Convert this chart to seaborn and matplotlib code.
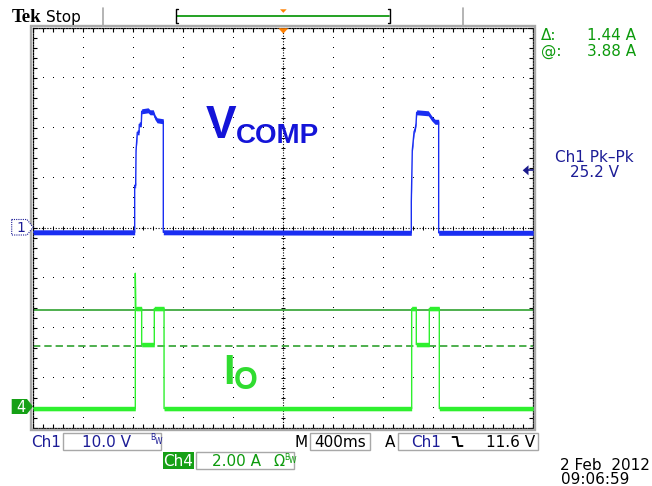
import numpy as np
import pandas as pd
import matplotlib
matplotlib.use("Agg")
import matplotlib.pyplot as plt
import seaborn as sns
from matplotlib.patches import Rectangle, Polygon
from matplotlib.lines import Line2D
from matplotlib.ticker import MultipleLocator, NullFormatter

# ---------------- data ----------------
ch1_time = [-2.0, -1.189, -1.189, -1.181, -1.178, -1.168, -1.154, -1.152, -1.136, -1.133,
            -1.082, -1.066, -1.040, -1.026, -1.010, -0.960, -0.960,
            1.024, 1.024, 1.032, 1.046, 1.056, 1.062, 1.067, 1.160, 1.187, 1.214, 1.243, 1.243, 2.0]
ch1_volts = [-0.8, -0.8, 8.6, 8.6, 15.6, 19.2, 19.2, 20.8, 20.8, 23.4,
             23.6, 23.2, 23.2, 22.2, 21.6, 21.4, -0.8,
             -0.9, 5.3, 15.6, 19.3, 20.0, 21.0, 23.2, 23.0, 22.0, 21.3, 21.3, -0.9, -0.9]
ch4_time = [-2.0, -1.184, -1.184, -1.180, -1.133, -1.133, -1.032, -1.032, -0.954, -0.954,
            1.027, 1.027, 1.064, 1.064, 1.168, 1.168, 1.248, 1.248, 2.0]
ch4_amps = [-0.07, -0.07, 5.34, 3.93, 3.93, 2.49, 2.49, 3.93, 3.93, -0.07,
            -0.07, 3.93, 3.93, 2.49, 2.49, 3.93, 3.93, -0.07, -0.07]

ch1_scale = 10.0      # V/div
ch4_scale = 2.00      # A/div
ch1_offset = 0.0      # div
ch4_offset = -3.57    # div
time_per_div = 0.4    # s/div
cursor_at = 3.88      # A
cursor_delta = 1.44   # A
trigger_level = 11.6  # V

status_ch1 = "10.0 V"
status_ch4 = "2.00 A"
status_time = "400ms"
status_trig = "11.6 V"
meas_label = "Ch1 Pk\u2013Pk"
meas_value = "25.2 V"
date_text = "2 Feb  2012"
time_text = "09:06:59"

# ---------------- figure ----------------
sns.set_theme(style="white")
plt.rcParams["font.family"] = ["DejaVu Sans"]

W, H = 652, 486
fig = plt.figure(figsize=(W / 100, H / 100), dpi=100)
fig.patch.set_facecolor("white")
ax = fig.add_axes([33.3 / W, 1 - 428.3 / H, 500 / W, 400 / H])
ax.set_facecolor("white")

BLUE = "#1a2ef2"
GREEN = "#2ef02e"
DKBLUE = "#1c1c96"
DKGREEN = "#0c9a0c"
CURSOR = "#1e9a1e"
ORANGE = "#ff8000"
GRAY = "#a8a8a8"

def fx(x):
    return x / W

def fy(y):
    return 1 - y / H

def ftext(x, y, s, **kw):
    fig.text(fx(x), fy(y), s, **kw)

def frect(x0, y0, x1, y1, **kw):
    fig.patches.append(Rectangle((fx(x0), fy(y1)), (x1 - x0) / W, (y1 - y0) / H,
                                 transform=fig.transFigure, **kw))

def fpoly(pts, **kw):
    fig.patches.append(Polygon([(fx(a), fy(b)) for a, b in pts], closed=True,
                               transform=fig.transFigure, **kw))

def fline(xs, ys, **kw):
    fig.lines.append(Line2D([fx(a) for a in xs], [fy(b) for b in ys],
                            transform=fig.transFigure, **kw))

xmin, xmax = -5 * time_per_div, 5 * time_per_div
ax.set_xlim(xmin, xmax)
ax.set_ylim(-4, 4)

# graticule dots
gx = np.arange(-4, 5) * time_per_div
gy = np.arange(-3, 4)
dot_y = np.arange(-4, 4.001, 0.2)
dot_x = np.arange(xmin, xmax + 1e-9, time_per_div * 0.2)
for xv in gx:
    if abs(xv) < 1e-9:
        continue
    ax.plot(np.full_like(dot_y, xv), dot_y, ls="none", marker=",", color="black", zorder=1)
for yv in gy:
    if yv == 0:
        continue
    ax.plot(dot_x, np.full_like(dot_x, yv), ls="none", marker=",", color="black", zorder=1)
# center axes
ax.axhline(0, color="black", lw=0.8, ls=(0, (1, 1.5)), zorder=1)
ax.axvline(0, color="black", lw=0.8, ls=(0, (1, 1.5)), zorder=1)
ax.plot(dot_x, np.zeros_like(dot_x), ls="none", marker="|", ms=3.5, mew=0.7, color="black", zorder=1)
ax.plot(np.zeros_like(dot_y), dot_y, ls="none", marker="_", ms=3.5, mew=0.7, color="black", zorder=1)

# edges
for sp in ax.spines.values():
    sp.set_visible(True)
    sp.set_color("black")
    sp.set_linewidth(0.9)
    sp.set_linestyle((0, (1, 1.2)))
ax.xaxis.set_major_locator(MultipleLocator(time_per_div))
ax.xaxis.set_minor_locator(MultipleLocator(time_per_div * 0.2))
ax.yaxis.set_major_locator(MultipleLocator(1))
ax.yaxis.set_minor_locator(MultipleLocator(0.2))
ax.tick_params(which="both", direction="in", top=True, right=True, bottom=True, left=True,
               length=2.6, width=0.8, color="black", labelbottom=False, labelleft=False)
ax.xaxis.set_major_formatter(NullFormatter())
ax.yaxis.set_major_formatter(NullFormatter())
ax.grid(False)

# cursors (Ch4)
y_at = cursor_at / ch4_scale + ch4_offset
y_base = (cursor_at - cursor_delta) / ch4_scale + ch4_offset
ax.axhline(y_at, color=CURSOR, lw=1.1, zorder=2)
ax.axhline(y_base, color=CURSOR, lw=1.1, ls=(0, (4.8, 2.6)), zorder=2)

# traces
df1 = pd.DataFrame({"t": ch1_time, "div": np.array(ch1_volts) / ch1_scale + ch1_offset})
df4 = pd.DataFrame({"t": ch4_time, "div": np.array(ch4_amps) / ch4_scale + ch4_offset})
ax.fill_between(df4["t"], df4["div"] - 0.045, df4["div"] + 0.045, color=GREEN, lw=0, zorder=3)
sns.lineplot(data=df4, x="t", y="div", estimator=None, sort=False, color=GREEN, lw=1.0, ax=ax, zorder=3)
ax.fill_between(df1["t"], df1["div"] - 0.05, df1["div"] + 0.05, color=BLUE, lw=0, zorder=4)
sns.lineplot(data=df1, x="t", y="div", estimator=None, sort=False, color=BLUE, lw=1.0, ax=ax, zorder=4)
ax.set_xlabel("")
ax.set_ylabel("")
ax.set_xlim(xmin, xmax)
ax.set_ylim(-4, 4)

# trigger level arrow
ytr = 228.3 - (trigger_level / ch1_scale + ch1_offset) * 50
fpoly([(522.7, ytr), (528.5, ytr - 5), (528.5, ytr + 5)], facecolor="#1a1a8c", edgecolor="none", zorder=5)
fline([528, 533], [ytr, ytr], color="#1a1a8c", lw=1.2, zorder=5)

# gray frame
frect(31.2, 26.2, 534.8, 429.8, fill=False, edgecolor=GRAY, lw=1.7, zorder=0.5)

# top bar
ftext(11.5, 21.7, "Tek", fontfamily="Liberation Serif", fontweight="bold", fontsize=13.5, color="black", va="baseline")
ftext(46, 21.7, "Stop", fontsize=11, color="black", va="baseline")
fline([103.3, 103.3], [8, 25], color=GRAY, lw=1.2)
fline([462.7, 462.7], [8, 25], color=GRAY, lw=1.2)
fline([177, 389], [15.7, 15.7], color="#139a13", lw=1.3)
fline([178, 175.7, 175.7, 178], [9.5, 9.5, 23.3, 23.3], color="black", lw=1.0)
fline([388, 390.3, 390.3, 388], [9.5, 9.5, 23.3, 23.3], color="black", lw=1.0)
fpoly([(280, 9.3), (286.7, 9.3), (283.3, 12.8)], facecolor=ORANGE, edgecolor="none")
fpoly([(278.3, 28.2), (288.3, 28.2), (283.3, 33.6)], facecolor=ORANGE, edgecolor="none", zorder=6)

# cursor readouts
ftext(541, 40, "\u0394:", fontsize=11, color=DKGREEN, va="baseline")
ftext(636, 40, f"{cursor_delta:.2f} A", fontsize=11, color=DKGREEN, va="baseline", ha="right")
ftext(541, 55.5, "@:", fontsize=11, color=DKGREEN, va="baseline")
ftext(636, 55.5, f"{cursor_at:.2f} A", fontsize=11, color=DKGREEN, va="baseline", ha="right")

# measurement
ftext(594, 161.7, meas_label, fontsize=11, color=DKBLUE, va="baseline", ha="center")
ftext(594, 176.7, meas_value, fontsize=11, color=DKBLUE, va="baseline", ha="center")

# channel ground markers
fpoly([(11.7, 219.5), (27, 219.5), (33, 227.3), (27, 235), (11.7, 235)],
      facecolor="white", edgecolor=DKBLUE, lw=0.8, ls=(0, (1, 1)), zorder=6)
ftext(20.5, 232.3, "1", fontsize=10, color=DKBLUE, va="baseline", ha="center", zorder=7)
fpoly([(11.7, 399), (27, 399), (33, 406.5), (27, 414), (11.7, 414)],
      facecolor="#16a016", edgecolor="none", zorder=6)
ftext(20.5, 411.5, "4", fontsize=10.5, color="white", va="baseline", ha="center", zorder=7)

# waveform annotations
ftext(206, 138.3, "V", fontfamily="Liberation Sans", fontweight="bold", fontsize=33, color="#1414d8", va="baseline")
ftext(236, 143.3, "COMP", fontfamily="Liberation Sans", fontweight="bold", fontsize=20, color="#1414d8", va="baseline")
ftext(223.5, 383.5, "I", fontfamily="Liberation Sans", fontweight="bold", fontsize=30, color="#30dc30", va="baseline")
ftext(233.5, 389.3, "O", fontfamily="Liberation Sans", fontweight="bold", fontsize=22, color="#30dc30", va="baseline")

# bottom status
ftext(31, 446.5, "Ch1", fontsize=11, color=DKBLUE, va="baseline")
frect(62.7, 432.8, 161, 450.3, fill=False, edgecolor=GRAY, lw=1.0)
ftext(81.5, 446.5, status_ch1, fontsize=11, color=DKBLUE, va="baseline")
ftext(150.5, 440.5, "B", fontsize=5.5, color=DKBLUE, va="baseline")
ftext(154.3, 443.5, "W", fontsize=5.5, color=DKBLUE, va="baseline")

ftext(294.5, 446.5, "M", fontsize=11, color="black", va="baseline")
frect(309.5, 432.8, 370.2, 450.3, fill=False, edgecolor=GRAY, lw=1.0)
ftext(339.8, 446.5, status_time, fontsize=11, color="black", va="baseline", ha="center")

ftext(384.5, 446.5, "A", fontsize=11, color="black", va="baseline")
frect(397.8, 432.8, 537.5, 450.3, fill=False, edgecolor=GRAY, lw=1.0)
ftext(411.5, 446.5, "Ch1", fontsize=11, color=DKBLUE, va="baseline")
fline([452.5, 456.8, 458.2, 462.5], [437, 437, 446, 446], color="black", lw=1.4)
ftext(535, 446.5, status_trig, fontsize=11, color="black", va="baseline", ha="right")

frect(163, 451.8, 193.5, 469.3, facecolor="#16a016", edgecolor="none")
ftext(178.3, 465.5, "Ch4", fontsize=11, color="white", va="baseline", ha="center")
frect(195.6, 451.8, 293.8, 469.3, fill=False, edgecolor=GRAY, lw=1.0)
ftext(212.5, 465.5, status_ch4, fontsize=11, color=DKGREEN, va="baseline")
ftext(273.3, 465.5, "\u03a9", fontsize=10.5, color=DKGREEN, va="baseline")
ftext(284.5, 459.5, "B", fontsize=5.5, color=DKGREEN, va="baseline")
ftext(288.3, 462.5, "W", fontsize=5.5, color=DKGREEN, va="baseline")

ftext(650, 469.5, date_text, fontsize=11, color="black", va="baseline", ha="right")
ftext(560.5, 484, time_text, fontsize=11, color="black", va="baseline")

fig.savefig("out.png", dpi=100, facecolor="white")
